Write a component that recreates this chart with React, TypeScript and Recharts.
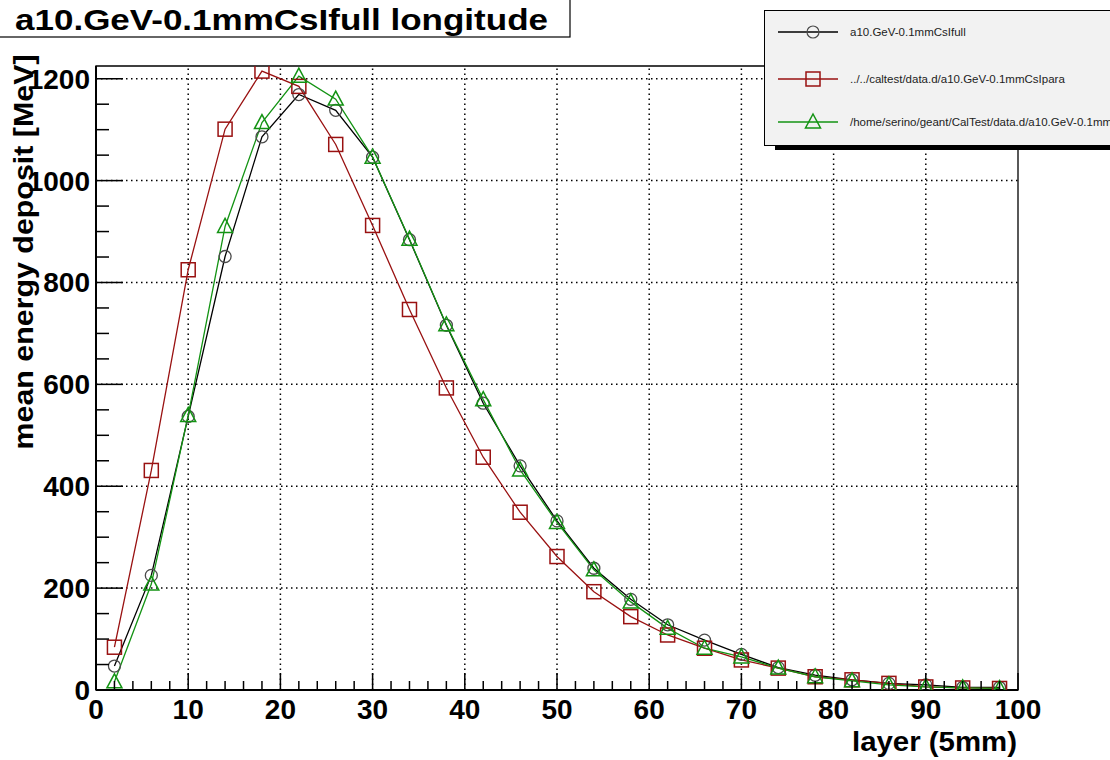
import React from 'react'
import { LineChart, Line, XAxis, YAxis, ReferenceLine, ReferenceArea } from 'recharts'

// layer positions (bin centres) and mean deposit per series
const layers = [2, 6, 10, 14, 18, 22, 26, 30, 34, 38, 42, 46, 50, 54, 58, 62, 66, 70, 74, 78, 82, 86, 90, 94, 98]
const fullDeposit = [47, 225, 537, 851, 1086, 1169, 1138, 1046, 884, 716, 563, 440, 332, 239, 178, 128, 98, 70, 44, 29, 20, 13, 10, 5, 5]
const paraDeposit = [84, 431, 825, 1101, 1215, 1185, 1071, 912, 747, 593, 457, 349, 262, 193, 144, 108, 82, 59, 43, 26, 20, 13, 6, 4, 3]
const homeDeposit = [16, 208, 539, 910, 1114, 1205, 1160, 1046, 885, 717, 570, 432, 329, 236, 173, 121, 82, 65, 43, 26, 18, 10, 6, 4, 3]

const seriesNames = [
  'a10.GeV-0.1mmCsIfull',
  '../../caltest/data.d/a10.GeV-0.1mmCsIpara',
  '/home/serino/geant/CalTest/data.d/a10.GeV-0.1mmCsIfull',
]

const xTicks = [0, 2, 4, 6, 8, 10, 12, 14, 16, 18, 20, 22, 24, 26, 28, 30, 32, 34, 36, 38, 40, 42, 44, 46, 48, 50, 52, 54, 56, 58, 60, 62, 64, 66, 68, 70, 72, 74, 76, 78, 80, 82, 84, 86, 88, 90, 92, 94, 96, 98, 100]
const yTicks = [0, 50, 100, 150, 200, 250, 300, 350, 400, 450, 500, 550, 600, 650, 700, 750, 800, 850, 900, 950, 1000, 1050, 1100, 1150, 1200]
const xGrid = [10, 20, 30, 40, 50, 60, 70, 80, 90]
const yGrid = [200, 400, 600, 800, 1000, 1200]
const Y_MAX = 1225

const COLORS = {
  full: '#000000',
  fullMarker: '#4a4a4a',
  para: '#991111',
  home: '#139313',
}

const FONT = '"Liberation Sans", Arial, Helvetica, sans-serif'

const rows = layers.map((layer, i) => ({
  layer,
  full: fullDeposit[i],
  para: paraDeposit[i],
  home: homeDeposit[i],
}))

function XTick(props: any) {
  const { x, y, payload } = props
  const v = payload.value
  const major = v % 10 === 0
  return (
    <g>
      <line x1={x} y1={y} x2={x} y2={y - (major ? 17 : 9)} stroke="#000" strokeWidth={1.5} />
      {major && (
        <text x={x} y={y + 29} textAnchor="middle" fontSize={28} fontWeight="bold" fontFamily={FONT} fill="#000">
          {v}
        </text>
      )}
    </g>
  )
}

function YTick(props: any) {
  const { x, y, payload } = props
  const v = payload.value
  const major = v % 200 === 0
  return (
    <g>
      <line x1={x} y1={y} x2={x + (major ? 27 : 13)} y2={y} stroke="#000" strokeWidth={1.5} />
      {major && (
        <text x={x - 6} y={y + 10} textAnchor="end" fontSize={28} fontWeight="bold" fontFamily={FONT} fill="#000">
          {v}
        </text>
      )}
    </g>
  )
}

function circleDot(p: any) {
  return <circle key={p.index} cx={p.cx} cy={p.cy} r={6} fill="none" stroke={COLORS.fullMarker} strokeWidth={1.3} />
}

function squareDot(p: any) {
  return <rect key={p.index} x={p.cx - 7} y={p.cy - 7} width={14} height={14} fill="none" stroke={COLORS.para} strokeWidth={1.5} />
}

function triangleDot(p: any) {
  const { cx, cy } = p
  return (
    <polygon
      key={p.index}
      points={`${cx - 7.5},${cy + 6} ${cx + 7.5},${cy + 6} ${cx},${cy - 8}`}
      fill="none"
      stroke={COLORS.home}
      strokeWidth={1.5}
    />
  )
}

function LegendMarker({ kind }: { kind: number }) {
  if (kind === 0) return <circle cx={43} cy={10} r={6} fill="none" stroke={COLORS.fullMarker} strokeWidth={1.2} />
  if (kind === 1) return <rect x={36} y={3} width={14} height={14} fill="none" stroke={COLORS.para} strokeWidth={1.5} />
  return <polygon points="35.5,16 50.5,16 43,2" fill="none" stroke={COLORS.home} strokeWidth={1.5} />
}

function LegendBox() {
  const lineColors = [COLORS.full, COLORS.para, COLORS.home]
  const rowsY = [32, 79, 122]
  return (
    <div style={{ position: 'absolute', left: 0, top: 0, width: 1110, height: 760, pointerEvents: 'none' }}>
      <div style={{ position: 'absolute', left: 775, top: 145, width: 400, height: 5, background: '#000' }} />
      <div
        style={{
          position: 'absolute',
          left: 764,
          top: 10,
          width: 400,
          height: 134,
          background: '#f2f2f2',
          border: '1px solid #000',
        }}
      />
      {seriesNames.map((name, i) => (
        <div key={name} style={{ position: 'absolute', left: 770, top: rowsY[i] - 10, height: 20, whiteSpace: 'nowrap' }}>
          <svg width={80} height={20} style={{ position: 'absolute', left: 0, top: 0 }}>
            <line x1={8} y1={10} x2={68} y2={10} stroke={lineColors[i]} strokeWidth={1.3} />
            <LegendMarker kind={i} />
          </svg>
          <span
            style={{
              position: 'absolute',
              left: 80,
              top: 2,
              fontFamily: FONT,
              fontSize: 11.5,
              color: '#222',
              lineHeight: '16px',
            }}
          >
            {name}
          </span>
        </div>
      ))}
    </div>
  )
}

function Labels() {
  return (
    <svg width={1110} height={760} style={{ position: 'absolute', left: 0, top: 0, pointerEvents: 'none' }}>
      <rect x={-1} y={-1} width={571} height={38} fill="#fff" stroke="#000" strokeWidth={1.2} />
      <text
        x={15}
        y={30}
        fontSize={30}
        fontWeight="bold"
        fontFamily={FONT}
        textLength={533}
        lengthAdjust="spacingAndGlyphs"
      >
        a10.GeV-0.1mmCsIfull longitude
      </text>
      <text
        x={1017}
        y={751}
        textAnchor="end"
        fontSize={28}
        fontWeight="bold"
        fontFamily={FONT}
        textLength={165}
        lengthAdjust="spacingAndGlyphs"
      >
        layer (5mm)
      </text>
      <text
        transform="translate(33, 252) rotate(-90)"
        x={0}
        y={0}
        textAnchor="middle"
        fontSize={28}
        fontWeight="bold"
        fontFamily={FONT}
        textLength={395}
        lengthAdjust="spacingAndGlyphs"
      >
        mean energy deposit [MeV]
      </text>
    </svg>
  )
}

export default function App() {
  return (
    <div style={{ position: 'absolute', left: 0, top: 0, width: 1110, height: 760, overflow: 'hidden', background: '#fff' }}>
      <LineChart width={1110} height={760} data={rows} margin={{ top: 66, right: 92, bottom: 69, left: 95 }}>
        <XAxis
          dataKey="layer"
          type="number"
          domain={[0, 100]}
          ticks={xTicks}
          interval={0}
          height={1}
          tickSize={0}
          tickMargin={0}
          tickLine={false}
          tick={<XTick />}
          axisLine={{ stroke: '#000', strokeWidth: 2 }}
          allowDataOverflow
        />
        <YAxis
          type="number"
          domain={[0, Y_MAX]}
          ticks={yTicks}
          interval={0}
          width={1}
          tickSize={0}
          tickMargin={0}
          tickLine={false}
          tick={<YTick />}
          axisLine={{ stroke: '#000', strokeWidth: 2 }}
          allowDataOverflow
        />
        {xGrid.map((v) => (
          <ReferenceLine key={'gx' + v} x={v} stroke="#000" strokeWidth={1.5} strokeDasharray="1.5 3.5" />
        ))}
        {yGrid.map((v) => (
          <ReferenceLine key={'gy' + v} y={v} stroke="#000" strokeWidth={1.5} strokeDasharray="1.5 3.5" />
        ))}
        <ReferenceArea x1={0} x2={100} y1={0} y2={Y_MAX} fill="none" fillOpacity={0} stroke="#000" strokeWidth={1.3} />
        <Line
          dataKey="full"
          name={seriesNames[0]}
          type="linear"
          stroke={COLORS.full}
          strokeWidth={1.3}
          dot={circleDot}
          isAnimationActive={false}
        />
        <Line
          dataKey="para"
          name={seriesNames[1]}
          type="linear"
          stroke={COLORS.para}
          strokeWidth={1.3}
          dot={squareDot}
          isAnimationActive={false}
        />
        <Line
          dataKey="home"
          name={seriesNames[2]}
          type="linear"
          stroke={COLORS.home}
          strokeWidth={1.3}
          dot={triangleDot}
          isAnimationActive={false}
        />
      </LineChart>
      <Labels />
      <LegendBox />
    </div>
  )
}
